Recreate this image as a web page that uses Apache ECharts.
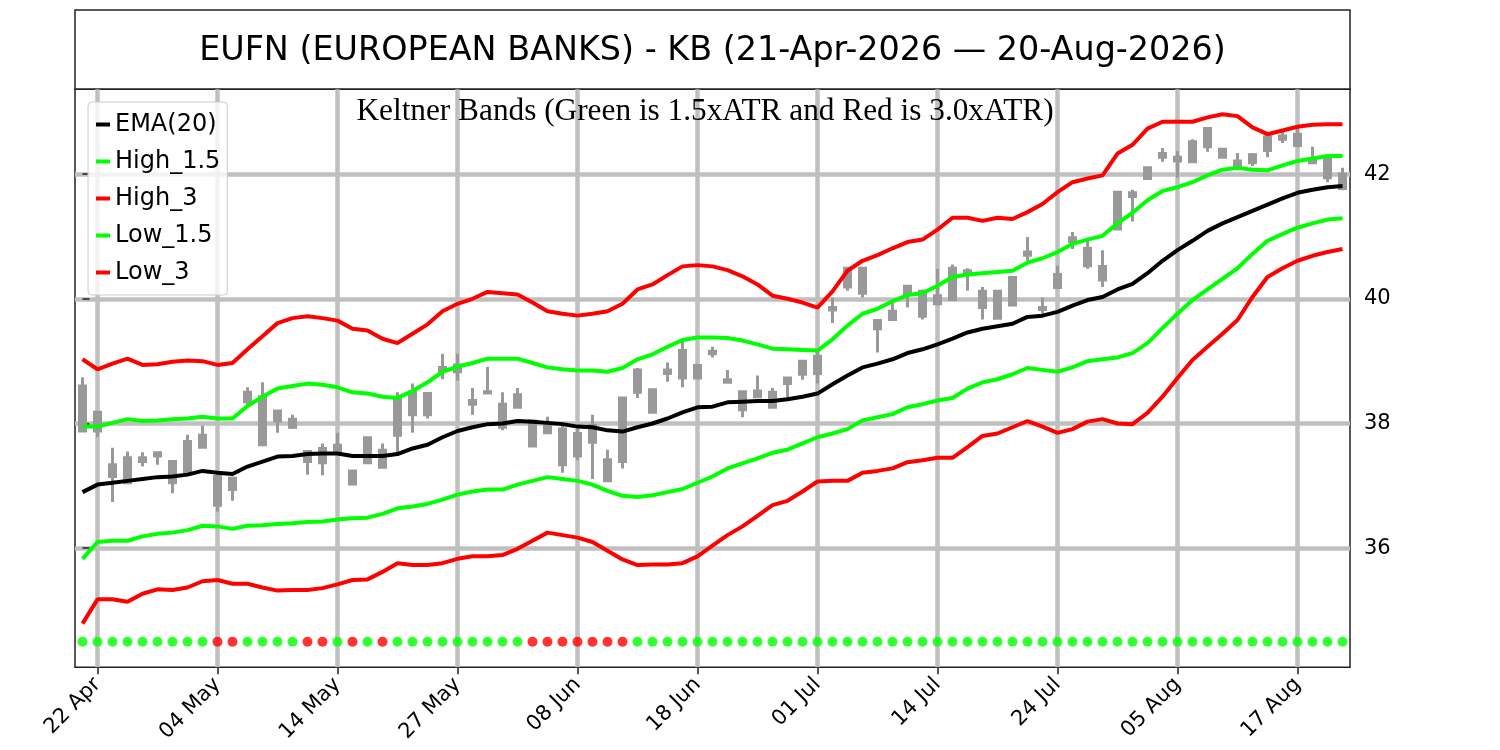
<!DOCTYPE html>
<html>
<head>
<meta charset="utf-8">
<title>EUFN Keltner Bands</title>
<script src="https://cdn.jsdelivr.net/npm/echarts@6/dist/echarts.min.js"></script>
<style>
  html, body { margin: 0; padding: 0; background: #fff; }
  #chart { width: 1500px; height: 750px; }
</style>
</head>
<body>
<div id="chart"></div>
<script>
const dates = ['21 Apr','22 Apr','23 Apr','24 Apr','27 Apr','28 Apr','29 Apr','30 Apr',
  '01 May','04 May','05 May','06 May','07 May','08 May','11 May','12 May','13 May','14 May','15 May',
  '18 May','19 May','20 May','21 May','22 May','26 May','27 May','28 May','29 May',
  '01 Jun','02 Jun','03 Jun','04 Jun','05 Jun','08 Jun','09 Jun','10 Jun','11 Jun','12 Jun',
  '15 Jun','16 Jun','17 Jun','18 Jun','22 Jun','23 Jun','24 Jun','25 Jun','26 Jun','29 Jun','30 Jun',
  '01 Jul','02 Jul','06 Jul','07 Jul','08 Jul','09 Jul','10 Jul','13 Jul','14 Jul','15 Jul','16 Jul',
  '17 Jul','20 Jul','21 Jul','22 Jul','23 Jul','24 Jul','27 Jul','28 Jul','29 Jul','30 Jul','31 Jul',
  '03 Aug','04 Aug','05 Aug','06 Aug','07 Aug','10 Aug','11 Aug','12 Aug','13 Aug','14 Aug',
  '17 Aug','18 Aug','19 Aug','20 Aug'];

// bar indexes that carry a date label
const tickIdx = [1, 9, 17, 25, 33, 41, 49, 57, 65, 73, 81];
const priceTicks = [36, 38, 40, 42];

const opens = [38.60,38.18,37.15,37.05,37.39,37.53,37.05,37.22,37.81,37.15,36.94,38.50,38.43,38.04,
  38.07,37.55,37.37,37.65,37.24,37.37,37.57,37.81,38.14,38.48,38.85,38.94,38.31,38.51,
  38.31,38.26,38.04,37.85,37.91,37.48,37.97,37.08,37.39,38.50,38.54,38.80,38.73,38.93,
  39.12,38.70,38.51,38.43,38.50,38.64,38.79,38.80,39.82,40.19,40.49,39.65,39.67,40.09,
  40.12,39.92,39.99,40.45,40.12,40.12,39.90,40.70,39.86,40.18,40.92,40.81,40.52,41.12,
  41.70,41.93,42.27,42.27,42.20,42.44,42.40,42.21,42.18,42.38,42.56,42.64,42.23,42.25,42.00];
const closes = [37.88,37.88,37.34,37.45,37.45,37.48,37.39,37.71,37.62,36.69,37.12,38.35,37.66,38.20,
  37.94,37.39,37.60,37.54,37.03,37.77,37.30,38.39,38.51,38.14,38.90,38.83,38.37,38.49,
  37.94,38.46,37.64,38.01,37.34,37.84,37.70,37.42,38.41,38.86,38.18,38.86,39.17,38.73,
  39.16,38.66,38.22,38.52,38.26,38.73,39.00,39.08,39.86,40.49,40.09,39.52,39.80,40.20,
  39.72,40.05,40.49,40.42,39.86,39.69,40.34,40.75,39.83,40.39,40.98,40.53,40.30,41.71,
  41.64,42.10,42.33,42.21,42.52,42.73,42.27,42.14,42.31,42.60,42.61,42.46,42.18,41.94,41.77];
const lows = [37.88,37.78,36.74,37.03,37.31,37.34,36.88,37.20,37.61,36.59,36.76,38.30,37.66,37.85,
  37.91,37.18,37.17,37.54,37.01,37.37,37.28,37.54,37.85,38.08,38.71,38.69,38.14,38.49,
  37.89,38.26,37.64,37.85,37.21,37.41,37.11,37.08,37.28,38.41,38.16,38.67,38.58,38.73,
  39.06,38.64,38.10,38.43,38.24,38.40,38.70,38.64,39.61,40.13,40.02,39.14,39.65,39.86,
  39.67,39.92,39.99,40.13,39.67,39.67,39.90,40.61,39.76,40.18,40.80,40.48,40.19,41.12,
  41.24,41.93,42.20,41.94,42.18,42.36,42.25,42.06,42.13,42.27,42.50,42.43,42.17,41.87,41.74];
const highs = [38.74,38.20,37.61,37.55,37.54,37.54,37.41,37.82,37.97,37.22,37.15,38.58,38.66,38.20,
  38.14,37.56,37.68,37.85,37.25,37.78,37.68,38.50,38.64,38.50,39.12,39.12,38.57,38.91,
  38.50,38.57,38.05,38.11,38.00,37.91,38.14,37.58,38.43,38.89,38.56,38.98,39.35,38.93,
  39.23,38.86,38.51,38.77,38.57,38.73,39.00,39.19,40.02,40.49,40.49,39.65,39.95,40.20,
  40.15,40.48,40.55,40.49,40.19,40.12,40.35,40.99,40.02,40.53,41.07,40.95,40.78,41.72,
  41.75,42.10,42.42,42.37,42.56,42.73,42.41,42.34,42.34,42.61,42.67,42.76,42.44,42.27,42.10];

const ema20 = [36.90,37.02,37.05,37.08,37.11,37.14,37.15,37.18,37.24,37.21,37.19,37.31,37.39,37.47,
  37.48,37.51,37.52,37.52,37.48,37.48,37.48,37.51,37.60,37.66,37.78,37.88,37.94,37.99,
  38.00,38.04,38.03,38.01,37.99,37.95,37.94,37.89,37.87,37.94,38.00,38.08,38.18,38.26,
  38.27,38.34,38.35,38.36,38.36,38.39,38.43,38.48,38.63,38.77,38.90,38.96,39.03,39.13,
  39.19,39.27,39.36,39.46,39.52,39.56,39.60,39.71,39.73,39.79,39.89,39.98,40.03,40.15,
  40.24,40.41,40.61,40.78,40.93,41.09,41.21,41.31,41.41,41.51,41.61,41.70,41.75,41.79,41.81];
const high15 = [37.95,37.95,38.01,38.07,38.04,38.05,38.07,38.08,38.11,38.08,38.08,38.28,38.43,38.56,
  38.60,38.64,38.62,38.58,38.50,38.48,38.43,38.41,38.52,38.66,38.83,38.91,38.97,39.04,
  39.04,39.04,38.97,38.90,38.87,38.85,38.85,38.83,38.89,39.03,39.11,39.23,39.34,39.38,
  39.38,39.37,39.33,39.27,39.20,39.19,39.18,39.17,39.35,39.57,39.76,39.84,39.96,40.06,
  40.09,40.21,40.35,40.39,40.41,40.43,40.45,40.58,40.65,40.75,40.88,40.95,41.01,41.21,
  41.38,41.58,41.73,41.79,41.87,41.98,42.07,42.10,42.07,42.06,42.14,42.21,42.25,42.29,42.29];
const high3 = [39.03,38.87,38.96,39.04,38.94,38.95,38.99,39.01,39.00,38.94,38.97,39.19,39.40,39.61,
  39.69,39.72,39.69,39.65,39.52,39.49,39.36,39.29,39.44,39.59,39.80,39.92,40.00,40.11,
  40.09,40.07,39.94,39.80,39.76,39.73,39.76,39.80,39.92,40.15,40.23,40.38,40.52,40.54,
  40.52,40.46,40.36,40.23,40.05,40.00,39.94,39.86,40.12,40.45,40.61,40.70,40.81,40.91,
  40.95,41.11,41.30,41.30,41.25,41.30,41.28,41.39,41.52,41.71,41.87,41.93,41.98,42.33,
  42.47,42.73,42.84,42.84,42.84,42.91,42.96,42.93,42.75,42.64,42.70,42.76,42.79,42.80,42.80];
const low15 = [35.83,36.10,36.12,36.12,36.19,36.23,36.25,36.29,36.36,36.35,36.31,36.36,36.37,36.39,
  36.40,36.42,36.43,36.46,36.48,36.49,36.55,36.64,36.67,36.71,36.78,36.86,36.91,36.94,
  36.94,37.02,37.08,37.14,37.11,37.08,37.02,36.92,36.84,36.82,36.85,36.90,36.95,37.05,
  37.15,37.28,37.36,37.44,37.53,37.58,37.68,37.78,37.84,37.91,38.05,38.10,38.15,38.26,
  38.31,38.37,38.41,38.56,38.66,38.71,38.79,38.89,38.86,38.83,38.90,39.00,39.03,39.06,
  39.13,39.29,39.53,39.76,39.98,40.15,40.32,40.49,40.72,40.93,41.04,41.14,41.21,41.27,41.29];
const low3 = [34.79,35.18,35.18,35.14,35.27,35.34,35.33,35.37,35.47,35.49,35.43,35.43,35.37,35.32,
  35.33,35.33,35.36,35.42,35.49,35.50,35.62,35.76,35.73,35.73,35.76,35.83,35.87,35.87,
  35.89,35.99,36.12,36.25,36.21,36.17,36.10,35.96,35.82,35.73,35.74,35.74,35.76,35.87,
  36.04,36.21,36.35,36.52,36.69,36.76,36.91,37.07,37.08,37.08,37.21,37.24,37.28,37.38,
  37.41,37.45,37.45,37.62,37.80,37.84,37.94,38.04,37.95,37.85,37.91,38.03,38.07,38.00,
  37.99,38.17,38.43,38.73,39.02,39.23,39.44,39.66,40.03,40.35,40.49,40.61,40.69,40.75,40.80];

// 1 = squeeze on (red dot), 0 = off (green dot)
const squeeze = [0,0,0,0,0,0,0,0,0,1,1,0,0,0,
  0,1,1,0,1,0,1,0,0,0,0,0,0,0,
  0,0,1,1,1,1,1,1,1,0,0,0,0,0,
  0,0,0,0,0,0,0,0,0,0,0,0,0,0,
  0,0,0,0,0,0,0,0,0,0,0,0,0,0,
  0,0,0,0,0,0,0,0,0,0,0,0,0,0,0];
const dotLevel = 34.5;

const FONT = 'DejaVu Sans';
const candleGray = '#999999';
const gridGray = '#bfbfbf';

const candles = dates.map((d, i) => [i, opens[i], closes[i], lows[i], highs[i]]);
const toXY = arr => arr.map((v, i) => [i, v]);
const dots = dates.map((d, i) => ({
  value: [i, dotLevel],
  itemStyle: { color: squeeze[i] ? '#ff0000' : '#00ff00' }
}));

function band(name, values, color) {
  return {
    name: name,
    type: 'line',
    data: toXY(values),
    showSymbol: false,
    symbol: 'none',
    color: color,
    lineStyle: { color: color, width: 4 },
    itemStyle: { color: color },
    z: 3
  };
}

const chart = echarts.init(document.getElementById('chart'));
chart.setOption({
  animation: false,
  backgroundColor: '#ffffff',
  textStyle: { fontFamily: FONT },
  grid: {
    left: 75, right: 150, top: 89.3, bottom: 82.7,
    show: true, borderColor: '#222', borderWidth: 1.5,
    outerBoundsMode: 'none'
  },
  graphic: [
    {
      type: 'rect', silent: true,
      shape: { x: 75, y: 10, width: 1275, height: 79.3 },
      style: { fill: 'none', stroke: '#222', lineWidth: 1.5 }
    },
    {
      type: 'text', silent: true, x: 712.5, y: 51.5,
      style: {
        text: 'EUFN (EUROPEAN BANKS) - KB (21-Apr-2026 \u2014 20-Aug-2026)',
        font: '33.4px "DejaVu Sans"', fill: '#000', align: 'center', verticalAlign: 'middle'
      }
    },
    {
      type: 'text', silent: true, x: 705, y: 111.5, z: 10,
      style: {
        text: 'Keltner Bands (Green is 1.5xATR and Red is 3.0xATR)',
        font: '31.3px "Liberation Serif"', fill: '#000', align: 'center', verticalAlign: 'middle'
      }
    }
  ],
  legend: {
    data: ['EMA(20)', 'High_1.5', 'High_3', 'Low_1.5', 'Low_3'],
    orient: 'vertical',
    left: 88, top: 102,
    icon: 'rect',
    itemWidth: 14, itemHeight: 4, itemGap: 12,
    padding: [10, 7, 10, 8],
    backgroundColor: 'rgba(255,255,255,0.8)',
    borderColor: '#cccccc', borderWidth: 1, borderRadius: 4,
    textStyle: { fontFamily: FONT, fontSize: 24, lineHeight: 25, color: '#000' }
  },
  xAxis: {
    type: 'value',
    min: -0.5, max: 84.5,
    axisLine: { show: false },
    axisTick: {
      show: true, length: 7, customValues: tickIdx,
      lineStyle: { color: '#222', width: 1.5 }
    },
    axisLabel: {
      customValues: tickIdx,
      formatter: v => dates[Math.round(v)] || '',
      rotate: 45, margin: 14,
      fontFamily: FONT, fontSize: 21, color: '#000'
    },
    splitLine: { show: true, lineStyle: { color: gridGray, width: 4.5 } }
  },
  yAxis: {
    type: 'value',
    position: 'right',
    min: 34.09, max: 43.36,
    axisLine: { show: false },
    axisTick: {
      show: true, length: 7, customValues: priceTicks,
      lineStyle: { color: '#222', width: 1.5 }
    },
    axisLabel: {
      customValues: priceTicks, margin: 14,
      fontFamily: FONT, fontSize: 21, color: '#000'
    },
    splitLine: { show: true, lineStyle: { color: gridGray, width: 4.5 } }
  },
  series: [
    {
      name: 'KB',
      type: 'candlestick',
      data: candles,
      encode: { x: 0, y: [1, 2, 3, 4] },
      barWidth: 7,
      itemStyle: {
        color: candleGray, color0: candleGray,
        borderColor: candleGray, borderColor0: candleGray,
        borderColorDoji: candleGray, borderWidth: 3
      },
      z: 2
    },
    band('EMA(20)', ema20, '#000000'),
    band('High_1.5', high15, '#00ff00'),
    band('High_3', high3, '#ff0000'),
    band('Low_1.5', low15, '#00ff00'),
    band('Low_3', low3, '#ff0000'),
    {
      name: 'Squeeze',
      type: 'scatter',
      data: dots,
      symbolSize: 10,
      z: 3
    }
  ]
});
</script>
</body>
</html>
